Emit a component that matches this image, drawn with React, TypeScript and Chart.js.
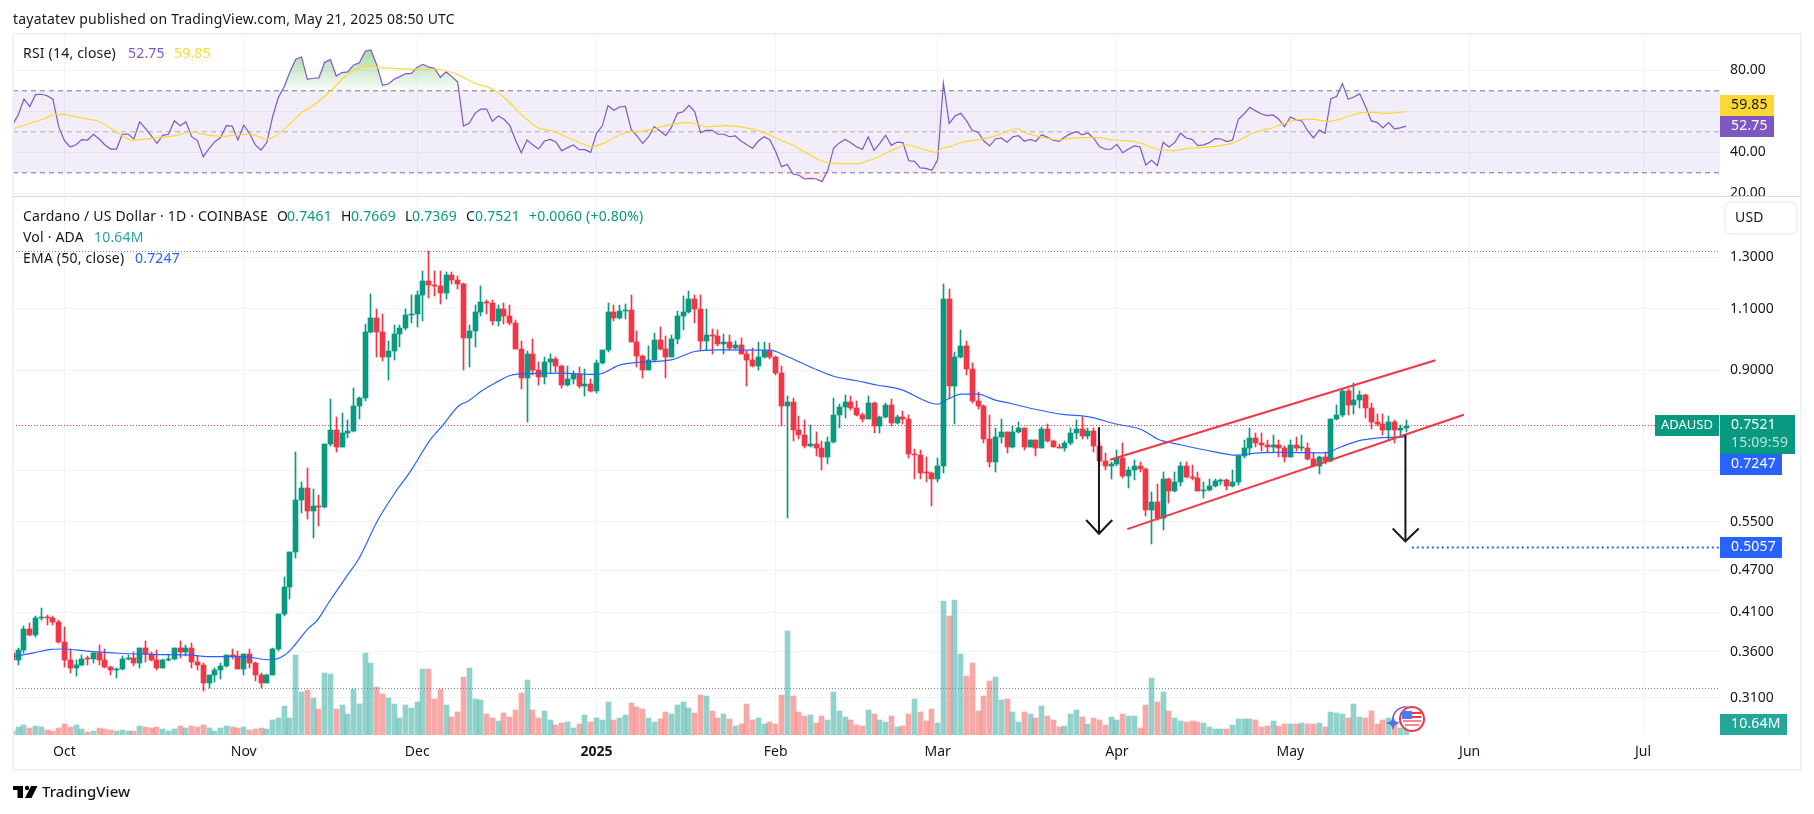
import React, { useEffect, useRef } from "react";
import { Chart, registerables } from "chart.js";

Chart.register(...registerables);

// Days are counted from 1 Oct 2024 (day 0).
const firstDay = -9;
const firstOpen = 0.359;

const closes = [
  0.351, 0.3628, 0.388, 0.38, 0.4015, 0.403, 0.4018, 0.3975, 0.372, 0.351,
  0.342, 0.3455, 0.352, 0.3515, 0.3585, 0.351, 0.343, 0.339, 0.341, 0.352,
  0.353, 0.3475, 0.3645, 0.358, 0.351, 0.342, 0.351, 0.3522, 0.3645, 0.36,
  0.3645, 0.349, 0.3455, 0.3255, 0.3335, 0.34, 0.3445, 0.3565, 0.3555, 0.341,
  0.358, 0.3475, 0.3335, 0.3255, 0.3345, 0.363, 0.408, 0.445, 0.498, 0.59,
  0.614, 0.57, 0.579, 0.5775, 0.709, 0.742, 0.702, 0.733, 0.74, 0.801,
  0.823, 1.02, 1.067, 1.02, 0.94, 0.959, 1.013, 1.033, 1.077, 1.081,
  1.15, 1.203, 1.188, 1.185, 1.157, 1.227, 1.207, 1.192, 1.0, 1.023,
  1.088, 1.124, 1.121, 1.056, 1.099, 1.074, 1.05, 0.965, 0.878, 0.95,
  0.901, 0.881, 0.925, 0.934, 0.913, 0.858, 0.875, 0.89, 0.855, 0.861,
  0.842, 0.922, 0.962, 1.088, 1.067, 1.092, 1.095, 0.987, 0.943, 0.901,
  0.931, 0.993, 0.965, 0.94, 0.996, 1.074, 1.088, 1.135, 1.099, 0.99,
  1.01, 1.006, 0.98, 0.987, 0.968, 0.977, 0.95, 0.931, 0.913, 0.94,
  0.959, 0.94, 0.892, 0.801, 0.812, 0.742, 0.73, 0.704, 0.709, 0.7,
  0.68, 0.714, 0.778, 0.799, 0.812, 0.796, 0.778, 0.768, 0.81, 0.752,
  0.773, 0.804, 0.759, 0.773, 0.768, 0.686, 0.684, 0.645, 0.6445, 0.631,
  0.66, 1.135, 0.855, 0.94, 0.974, 0.904, 0.815, 0.801, 0.72, 0.668,
  0.725, 0.737, 0.702, 0.737, 0.747, 0.702, 0.718, 0.7, 0.744, 0.716,
  0.702, 0.7, 0.711, 0.733, 0.744, 0.727, 0.74, 0.704, 0.671, 0.66,
  0.664, 0.677, 0.639, 0.651, 0.66, 0.653, 0.572, 0.586, 0.557, 0.633,
  0.608, 0.625, 0.66, 0.637, 0.635, 0.608, 0.61, 0.618, 0.627, 0.629,
  0.618, 0.625, 0.682, 0.698, 0.723, 0.711, 0.707, 0.702, 0.707, 0.698,
  0.68, 0.707, 0.698, 0.7, 0.675, 0.66, 0.68, 0.671, 0.768, 0.778,
  0.842, 0.804, 0.817, 0.831, 0.796, 0.761, 0.757, 0.742, 0.761, 0.742, 0.7461, 0.7521,
];

const highs = [
  0.359, 0.365, 0.392, 0.395, 0.405, 0.415, 0.406, 0.405, 0.399, 0.391,
  0.363, 0.351, 0.3565, 0.3555, 0.359, 0.3685, 0.364, 0.3445, 0.342, 0.3555,
  0.3565, 0.36, 0.365, 0.3725, 0.36, 0.362, 0.352, 0.3565, 0.365, 0.3725,
  0.3685, 0.3705, 0.3555, 0.3475, 0.3345, 0.342, 0.3475, 0.357, 0.363, 0.361,
  0.358, 0.363, 0.349, 0.3365, 0.3355, 0.365, 0.408, 0.46, 0.499, 0.691,
  0.625, 0.655, 0.612, 0.6, 0.709, 0.819, 0.773, 0.784, 0.766, 0.85,
  0.825, 1.046, 1.154, 1.098, 1.081, 0.99, 1.043, 1.043, 1.098, 1.15,
  1.165, 1.243, 1.325, 1.243, 1.243, 1.239, 1.239, 1.223, 1.196, 1.043,
  1.112, 1.184, 1.131, 1.131, 1.112, 1.12, 1.112, 1.06, 0.99, 0.959,
  0.996, 0.925, 0.94, 0.95, 0.94, 0.916, 0.913, 0.898, 0.91, 0.904,
  0.875, 0.931, 0.962, 1.12, 1.112, 1.112, 1.116, 1.15, 1.023, 0.946,
  0.974, 1.016, 1.036, 1.006, 1.01, 1.092, 1.146, 1.165, 1.15, 1.15,
  1.099, 1.03, 1.026, 1.013, 1.01, 0.99, 1.0, 0.959, 0.968, 0.987,
  0.987, 0.983, 0.943, 0.913, 0.828, 0.823, 0.776, 0.766, 0.754, 0.737,
  0.716, 0.725, 0.823, 0.807, 0.831, 0.828, 0.815, 0.784, 0.828, 0.812,
  0.776, 0.81, 0.82, 0.778, 0.789, 0.778, 0.697, 0.695, 0.68, 0.647,
  0.677, 1.192, 1.173, 0.956, 1.026, 0.99, 0.922, 0.84, 0.804, 0.778,
  0.747, 0.768, 0.737, 0.752, 0.761, 0.747, 0.718, 0.718, 0.749, 0.757,
  0.718, 0.709, 0.716, 0.747, 0.766, 0.773, 0.747, 0.747, 0.714, 0.688,
  0.669, 0.695, 0.711, 0.657, 0.673, 0.669, 0.655, 0.606, 0.621, 0.647,
  0.635, 0.647, 0.669, 0.669, 0.662, 0.647, 0.625, 0.631, 0.633, 0.633,
  0.633, 0.651, 0.684, 0.718, 0.747, 0.735, 0.733, 0.718, 0.73, 0.718,
  0.704, 0.718, 0.725, 0.73, 0.711, 0.688, 0.682, 0.691, 0.768, 0.804,
  0.847, 0.847, 0.864, 0.842, 0.834, 0.81, 0.781, 0.781, 0.776, 0.766, 0.754, 0.7669,
];

const lows = [
  0.349, 0.3455, 0.359, 0.379, 0.378, 0.4, 0.3925, 0.3935, 0.371, 0.3433,
  0.3365, 0.3325, 0.344, 0.3455, 0.3475, 0.3455, 0.3415, 0.3345, 0.331, 0.339,
  0.351, 0.3445, 0.342, 0.349, 0.35, 0.34, 0.342, 0.35, 0.351, 0.353,
  0.3555, 0.342, 0.34, 0.317, 0.3205, 0.327, 0.33, 0.3433, 0.352, 0.341,
  0.3345, 0.342, 0.328, 0.3205, 0.3255, 0.3335, 0.361, 0.405, 0.4275, 0.489,
  0.565, 0.555, 0.521, 0.543, 0.575, 0.704, 0.691, 0.702, 0.723, 0.737,
  0.768, 0.815, 1.016, 0.94, 0.928, 0.872, 0.931, 0.971, 1.026, 1.05,
  1.036, 1.056, 1.139, 1.146, 1.116, 1.135, 1.192, 1.173, 0.901, 0.91,
  0.971, 1.074, 1.081, 1.043, 1.04, 1.046, 1.043, 0.965, 0.847, 0.761,
  0.887, 0.858, 0.861, 0.892, 0.895, 0.85, 0.855, 0.861, 0.85, 0.828,
  0.839, 0.836, 0.919, 0.956, 1.056, 1.063, 1.063, 0.987, 0.91, 0.878,
  0.901, 0.925, 0.962, 0.878, 0.94, 0.98, 1.026, 1.084, 1.05, 0.962,
  0.962, 0.95, 0.974, 0.95, 0.962, 0.965, 0.95, 0.855, 0.91, 0.901,
  0.937, 0.934, 0.887, 0.752, 0.557, 0.716, 0.72, 0.7, 0.702, 0.682,
  0.651, 0.664, 0.711, 0.747, 0.771, 0.791, 0.776, 0.761, 0.768, 0.735,
  0.733, 0.771, 0.752, 0.757, 0.757, 0.677, 0.631, 0.631, 0.625, 0.579,
  0.625, 0.645, 0.823, 0.757, 0.937, 0.887, 0.81, 0.794, 0.711, 0.657,
  0.647, 0.711, 0.688, 0.698, 0.733, 0.695, 0.702, 0.682, 0.7, 0.714,
  0.702, 0.698, 0.693, 0.707, 0.72, 0.72, 0.72, 0.691, 0.66, 0.651,
  0.631, 0.66, 0.635, 0.614, 0.629, 0.647, 0.56, 0.512, 0.553, 0.536,
  0.584, 0.606, 0.618, 0.635, 0.629, 0.608, 0.594, 0.608, 0.616, 0.62,
  0.61, 0.616, 0.62, 0.677, 0.684, 0.702, 0.693, 0.691, 0.691, 0.68,
  0.669, 0.68, 0.693, 0.693, 0.673, 0.658, 0.643, 0.664, 0.669, 0.766,
  0.773, 0.778, 0.781, 0.796, 0.771, 0.744, 0.752, 0.73, 0.718, 0.711, 0.73, 0.7369,
];

// Volume in millions of ADA
const volumes = [
  7.5, 15, 19, 13, 17, 15, 9, 7.5, 13, 21,
  15, 19, 11, 5.6, 7.5, 13, 11, 9, 7.5, 9,
  7.5, 7.5, 17, 15, 13, 15, 11, 7.5, 11, 17,
  13, 17, 15, 19, 13, 7.5, 13, 17, 15, 13,
  15, 9, 11, 13, 11, 28, 32, 54, 32, 150,
  81, 84, 69, 49, 116, 114, 49, 56, 39, 86,
  58, 154, 135, 90, 77, 69, 58, 32, 56, 51,
  62, 124, 124, 68, 86, 56, 34, 43, 109, 126,
  68, 66, 39, 32, 26, 41, 34, 47, 79, 103,
  47, 32, 45, 28, 19, 23, 24, 13, 21, 38,
  24, 32, 28, 62, 28, 32, 38, 60, 53, 49,
  32, 24, 30, 43, 39, 56, 62, 51, 41, 75,
  73, 45, 32, 39, 30, 17, 21, 58, 28, 32,
  21, 24, 21, 75, 195, 73, 43, 36, 38, 23,
  36, 28, 81, 45, 34, 28, 19, 17, 47, 39,
  28, 24, 36, 15, 17, 39, 68, 43, 26, 49,
  23, 251, 223, 253, 152, 111, 135, 45, 73, 101,
  109, 66, 68, 43, 24, 43, 39, 32, 54, 36,
  28, 15, 17, 39, 47, 34, 21, 32, 28, 19,
  34, 28, 39, 36, 36, 13, 56, 107, 62, 81,
  45, 32, 26, 24, 26, 24, 23, 15, 11, 11,
  11, 19, 30, 30, 30, 28, 15, 17, 26, 17,
  21, 21, 21, 23, 20, 21, 23, 15, 43, 41,
  39, 32, 58, 34, 32, 45, 21, 28, 32, 24, 14, 10.64,
];
const volumeUpOverrides = [147];

const rsiValues = [
  53.3, 58.2, 66.0, 62.3, 68.1, 68.3, 67.6, 65.9, 52.5, 45.7,
  42.6, 43.7, 46.2, 46.0, 48.8, 46.5, 43.6, 41.6, 41.6, 48.8,
  48.9, 46.5, 54.8, 51.7, 48.1, 44.4, 48.3, 48.8, 55.4, 53.0,
  54.8, 47.6, 45.7, 37.9, 41.8, 45.2, 47.2, 53.0, 52.8, 46.0,
  53.2, 49.3, 43.6, 41.1, 44.9, 57.4, 66.8, 72.0, 79.3, 85.4,
  86.5, 75.6, 76.1, 76.3, 83.9, 85.2, 77.2, 78.9, 79.2, 82.6,
  83.7, 89.3, 89.9, 82.6, 72.7, 73.3, 75.6, 76.9, 78.4, 78.5,
  81.5, 82.9, 81.5, 81.0, 76.6, 79.2, 76.9, 74.3, 52.8, 54.1,
  59.0, 61.1, 61.1, 55.1, 57.7, 56.1, 53.2, 46.0, 39.8, 46.0,
  43.6, 41.6, 45.5, 46.3, 45.0, 40.7, 42.3, 43.6, 41.3, 41.3,
  40.0, 49.3, 52.8, 62.8, 60.5, 62.1, 62.4, 51.2, 48.0, 44.4,
  47.5, 52.5, 50.4, 48.1, 52.4, 59.0, 59.8, 62.9, 59.7, 49.6,
  50.7, 50.7, 48.8, 48.8, 47.6, 48.0, 45.5, 43.7, 42.0, 45.5,
  47.6, 46.0, 40.3, 33.0, 34.1, 29.4, 28.8, 27.0, 27.3, 27.0,
  25.7, 31.1, 42.0, 44.6, 46.3, 44.7, 42.6, 41.5, 47.5, 41.0,
  44.4, 48.3, 43.4, 45.0, 44.7, 35.9, 35.6, 32.4, 32.2, 31.2,
  36.3, 73.7, 54.0, 57.7, 59.0, 55.3, 50.6, 49.8, 45.5, 43.1,
  46.5, 47.0, 44.9, 47.6, 48.1, 45.4, 46.3, 45.4, 48.6, 47.3,
  45.9, 45.4, 47.5, 49.1, 50.1, 48.5, 49.4, 46.8, 42.8, 41.5,
  41.5, 43.9, 39.8, 41.6, 43.1, 42.6, 33.8, 36.1, 33.5, 44.9,
  42.6, 44.7, 49.3, 47.0, 46.3, 43.3, 43.6, 44.7, 46.7, 46.5,
  45.2, 46.0, 56.1, 58.7, 62.0, 60.2, 58.7, 57.9, 58.2, 56.1,
  52.5, 57.2, 55.8, 55.3, 50.4, 47.0, 50.9, 49.3, 66.2, 67.2,
  73.5, 65.9, 67.0, 68.5, 62.3, 55.3, 54.6, 51.9, 54.5, 51.4, 51.9, 52.75,
];

const rsiMaDays = [
  -8.9, -7, -5, -3.3, -1.6, 0.1, 1.8, 3.9, 6, 7.7, 9.7, 11.8, 13.5, 15.9, 18.9, 22, 24.4, 27.2, 29.9, 32.3,
  35, 36.7, 38.8, 41.2, 42.9, 46, 48.4, 50.4, 52.8, 54.2, 56.6, 58.6, 61.4, 64.1, 67.9, 70.9, 73.7, 76.4, 79.1, 81.9,
  84.3, 87, 89.4, 91.2, 93.5, 96.7, 99.5, 102.2, 104.9, 107.3, 109, 111.1, 114.5, 117.9, 121, 123.4, 126.1, 128.9, 131.3, 133,
  137, 140.2, 143.2, 145.6, 148, 150.7, 151.8, 153.1, 155.2, 158.3, 161, 164.8, 166.1, 169.2, 172, 174.7, 178, 181.5, 185.6, 189,
  191.5, 194.5, 196.4, 199.8, 202.2, 203.9, 205.9, 208.6, 211.3, 214, 216, 218.4, 220.1, 221.5, 224.9, 226.6, 228.3, 232,
];
const rsiMaValues = [
  51.4, 53.2, 55.0, 56.6, 58.5, 58.5, 57.4, 56.3, 55.0, 52.2, 48.8, 45.9, 46.3, 47.0, 48.0, 49.9, 48.6, 47.8, 48.5, 48.8,
  46.3, 48.3, 53.3, 59.8, 62.6, 69.9, 76.6, 80.5, 82.3, 81.3, 81.0, 80.7, 80.5, 80.5, 78.0, 73.7, 71.2, 65.9, 58.2, 52.0,
  50.6, 47.2, 44.4, 42.8, 44.7, 49.3, 50.2, 51.7, 53.5, 54.5, 54.1, 52.5, 53.0, 51.9, 49.6, 46.5, 43.3, 38.7, 35.4, 34.6,
  34.5, 37.1, 41.1, 43.7, 42.0, 40.0, 42.0, 42.8, 44.9, 46.2, 48.0, 51.5, 49.6, 47.3, 46.0, 47.0, 47.3, 46.0, 44.9, 41.5,
  40.8, 42.0, 42.3, 43.1, 44.7, 47.0, 49.8, 51.7, 54.5, 56.1, 56.1, 55.0, 55.8, 57.1, 59.5, 59.5, 59.0, 59.85,
];

const emaDays = [
  -8.9, -5.3, -2.3, -0.2, 3.9, 9.4, 16.2, 21, 25.8, 30.6, 35.7, 38.1, 39.8, 42.2, 43.6, 45.6, 49, 50.8,
  54.2, 56.9, 60, 63.1, 65.5, 68.2, 69.9, 72, 74.4, 77.1, 79.8, 86, 91.5, 92.8, 96.1,
  99.5, 104.9, 109, 113.1, 122, 124.8, 129.5, 133, 137, 140.5, 144.6, 151, 152.8, 155.2, 157.9, 161, 163.7, 167.8,
  172.6, 177.4, 181.5, 186.3, 189, 193.2, 198.7, 202.7, 206.6, 210.6, 218, 220.8, 223.9, 227, 232,
];
const emaValues = [
  0.3546, 0.359, 0.363, 0.3635, 0.361, 0.3585, 0.357, 0.3566, 0.3545, 0.3545, 0.351, 0.3565, 0.368, 0.389, 0.398, 0.4215, 0.463, 0.486,
  0.553, 0.6, 0.651, 0.715, 0.754, 0.802, 0.815, 0.84, 0.863, 0.885, 0.89, 0.892, 0.888, 0.89, 0.916,
  0.924, 0.931, 0.957, 0.962, 0.961, 0.943, 0.906, 0.883, 0.87, 0.858, 0.846, 0.806, 0.82, 0.833, 0.833, 0.817, 0.808, 0.793,
  0.78, 0.773, 0.757, 0.742, 0.72, 0.706, 0.691, 0.683, 0.688, 0.689, 0.688, 0.702, 0.716, 0.722, 0.7247,
];

const monthDays = [0, 31, 61, 92, 123, 151, 182, 212, 243, 273];
const monthLabels = ["Oct", "Nov", "Dec", "2025", "Feb", "Mar", "Apr", "May", "Jun", "Jul"];
const priceTicks = [1.3, 1.1, 0.9, 0.65, 0.55, 0.47, 0.41, 0.36, 0.31];
const rsiTicks = [80, 60, 40, 20];
const rsiLevels = [70, 50, 30];

const xRange = [-8.9, 286.3];
const priceRange = [0.2748, 1.587];
const rsiRange = [18.7, 97.2];
const volumeMax = 1312.5;

const rangeHigh = 1.325;
const rangeLow = 0.3196;
const lastPrice = 0.7521;
const targetPrice = 0.5057;

const channelUpper = [{ x: 180.8, y: 0.673 }, { x: 237.1, y: 0.93 }];
const channelLower = [{ x: 183.8, y: 0.537 }, { x: 242, y: 0.779 }];
const arrowOneShaft = [{ x: 178.9, y: 0.748 }, { x: 178.9, y: 0.529 }];
const arrowOneHead = [{ x: 176.7, y: 0.553 }, { x: 178.9, y: 0.529 }, { x: 181.2, y: 0.553 }];
const arrowTwoShaft = [{ x: 231.9, y: 0.729 }, { x: 231.9, y: 0.516 }];
const arrowTwoHead = [{ x: 229.7, y: 0.538 }, { x: 231.9, y: 0.516 }, { x: 234.2, y: 0.538 }];
const targetLine = [{ x: 233, y: targetPrice }, { x: xRange[1], y: targetPrice }];

const FONT = '"Noto Sans", sans-serif';
const INK = "#131722";
const UP = "#089981";
const DOWN = "#F23645";
const BLUE = "#2962FF";
const PURPLE = "#7E57C2";
const YELLOW = "#FDD835";
const GRID = "#f2f3f6";

const pixelAlignPlugin = {
  id: "pixelAlign",
  afterDatasetsUpdate(chart: any) {
    chart.getSortedVisibleDatasetMetas().forEach((meta: any) => {
      if (meta.type !== "bar") return;
      meta.data.forEach((el: any) => {
        el.x = Math.floor(el.x) + 0.5;
        el.y = Math.round(el.y);
        el.base = Math.round(el.base);
        if (el.y === el.base) el.base = el.y + 1;
      });
    });
  },
};

function badge(ctx: any, x0: number, y0: number, x1: number, y1: number, fill: string) {
  ctx.fillStyle = fill;
  ctx.fillRect(x0, y0, x1 - x0, y1 - y0);
}

function label(ctx: any, text: string, x: number, y: number, color: string, font = `14px ${FONT}`, spacing = "0.2px") {
  ctx.font = font;
  ctx.fillStyle = color;
  ctx.textAlign = "left";
  ctx.textBaseline = "middle";
  ctx.letterSpacing = spacing;
  ctx.fillText(text, x, y);
}

const framePlugin = {
  id: "frame",
  beforeDraw(chart: any) {
    const ctx = chart.ctx;
    ctx.save();
    ctx.fillStyle = "#ffffff";
    ctx.fillRect(0, 0, 1814, 814);
    ctx.restore();
  },
  afterDraw(chart: any) {
    const ctx = chart.ctx;
    ctx.save();
    // frame and pane divider
    ctx.strokeStyle = "#f1f1f3";
    ctx.lineWidth = 2;
    ctx.strokeRect(13, 34, 1788, 736);
    ctx.fillStyle = "#ffffff";
    ctx.fillRect(1721, 197, 78, 6);
    ctx.strokeStyle = "#dcdcdf";
    ctx.lineWidth = 1;
    ctx.beginPath();
    ctx.moveTo(13, 196.5);
    ctx.lineTo(1800, 196.5);
    ctx.stroke();

    // header
    label(ctx, "tayatatev published on TradingView.com, May 21, 2025 08:50 UTC", 13, 20, INK);

    // RSI legend
    label(ctx, "RSI (14, close)", 23, 54, INK);
    label(ctx, "52.75", 128, 54, PURPLE);
    label(ctx, "59.85", 174, 54, YELLOW);

    // main legend
    label(ctx, "Cardano / US Dollar · 1D · COINBASE", 23, 217, INK);
    label(ctx, "O", 277, 217, INK);
    label(ctx, "0.7461", 287, 217, UP);
    label(ctx, "H", 341, 217, INK);
    label(ctx, "0.7669", 351, 217, UP);
    label(ctx, "L", 405, 217, INK);
    label(ctx, "0.7369", 412, 217, UP);
    label(ctx, "C", 466, 217, INK);
    label(ctx, "0.7521", 475, 217, UP);
    label(ctx, "+0.0060 (+0.80%)", 529, 217, UP);
    label(ctx, "Vol · ADA", 23, 238, INK);
    label(ctx, "10.64M", 94, 238, "#26a69a");
    label(ctx, "EMA (50, close)", 23, 259, INK);
    label(ctx, "0.7247", 135, 259, BLUE);

    // USD button
    ctx.strokeStyle = "#f0f3fa";
    ctx.lineWidth = 2;
    ctx.beginPath();
    ctx.roundRect(1725, 202, 72, 32, 6);
    ctx.stroke();
    label(ctx, "USD", 1735, 218, INK);

    // right-hand badges
    badge(ctx, 1720, 95, 1774, 116, YELLOW);
    label(ctx, "59.85", 1731, 105.5, INK);
    badge(ctx, 1720, 116, 1774, 137, PURPLE);
    label(ctx, "52.75", 1731, 126.5, "#ffffff");

    badge(ctx, 1655, 415, 1719, 436, UP);
    label(ctx, "ADAUSD", 1661, 425.5, "#ffffff", `13px ${FONT}`, "0px");
    badge(ctx, 1720, 415, 1795, 454, UP);
    label(ctx, "0.7521", 1731, 425.5, "#ffffff");
    label(ctx, "15:09:59", 1731, 443, "rgba(255,255,255,0.72)");
    badge(ctx, 1720, 454, 1782, 475, BLUE);
    label(ctx, "0.7247", 1731, 464.5, "#ffffff");
    badge(ctx, 1720, 537, 1782, 558, BLUE);
    label(ctx, "0.5057", 1731, 547.5, "#ffffff");
    badge(ctx, 1720, 714, 1787, 735, "#26a69a");
    label(ctx, "10.64M", 1731, 724.5, "#ffffff");

    // economic-event icon
    ctx.strokeStyle = PURPLE;
    ctx.lineWidth = 1.5;
    ctx.beginPath();
    ctx.arc(1405, 719, 12, Math.PI * 0.95, Math.PI * 1.6);
    ctx.stroke();
    ctx.fillStyle = "#5a6ee6";
    ctx.beginPath();
    ctx.moveTo(1393, 716);
    ctx.lineTo(1395, 721);
    ctx.lineTo(1400, 723);
    ctx.lineTo(1395, 725);
    ctx.lineTo(1393, 730);
    ctx.lineTo(1391, 725);
    ctx.lineTo(1386, 723);
    ctx.lineTo(1391, 721);
    ctx.closePath();
    ctx.fill();
    ctx.fillStyle = "#ffffff";
    ctx.beginPath();
    ctx.arc(1412, 719, 13, 0, Math.PI * 2);
    ctx.fill();
    ctx.strokeStyle = DOWN;
    ctx.lineWidth = 2;
    ctx.beginPath();
    ctx.arc(1412, 719, 12, 0, Math.PI * 2);
    ctx.stroke();
    ctx.fillStyle = "#f7888f";
    ctx.fillRect(1403, 720, 18, 2);
    ctx.fillRect(1405, 724, 14, 2);
    ctx.fillStyle = DOWN;
    ctx.fillRect(1412, 712, 9, 2);
    ctx.fillRect(1412, 716, 9, 2);
    ctx.fillStyle = "#4a7df0";
    ctx.fillRect(1402, 711, 10, 8);

    // logo
    ctx.fillStyle = "#000000";
    ctx.fillRect(13, 786, 10, 4);
    ctx.fillRect(17.5, 786, 5.5, 12);
    ctx.beginPath();
    ctx.arc(27, 788, 2.2, 0, Math.PI * 2);
    ctx.fill();
    ctx.beginPath();
    ctx.moveTo(31, 786);
    ctx.lineTo(37.5, 786);
    ctx.lineTo(31.5, 798);
    ctx.lineTo(25, 798);
    ctx.closePath();
    ctx.fill();
    label(ctx, "TradingView", 42, 793, "#131722", `500 15px ${FONT}`, "0px");
    ctx.restore();
  },
};

function lineSet(data: any[], yAxisID: string, color: string, width: number, order: number, extra: any = {}) {
  return {
    type: "line",
    data,
    yAxisID,
    xAxisID: "x",
    borderColor: color,
    borderWidth: width,
    pointRadius: 0,
    tension: 0,
    fill: false,
    order,
    ...extra,
  };
}

export default function App() {
  const ref = useRef<HTMLCanvasElement | null>(null);

  useEffect(() => {
    const canvas = ref.current;
    if (!canvas) return;
    const ctx = canvas.getContext("2d") as CanvasRenderingContext2D;

    const opens = closes.map((_, i) => (i === 0 ? firstOpen : closes[i - 1]));
    const days = closes.map((_, i) => firstDay + i);
    const isUp = closes.map((c, i) => c >= opens[i]);

    const candleColors = isUp.map((u) => (u ? UP : DOWN));
    const volumeColors = isUp.map((u, i) =>
      u || volumeUpOverrides.includes(days[i]) ? "rgba(38,166,154,0.5)" : "rgba(239,83,80,0.5)"
    );

    const overbought = ctx.createLinearGradient(0, 46, 0, 91);
    overbought.addColorStop(0, "rgba(76,175,80,0.55)");
    overbought.addColorStop(1, "rgba(76,175,80,0.02)");

    const rsiPoints = rsiValues.map((y, i) => ({ x: days[i], y }));
    const maPoints = rsiMaValues.map((y, i) => ({ x: rsiMaDays[i], y }));
    const emaPoints = emaValues.map((y, i) => ({ x: emaDays[i], y }));
    const level = (y: number) => [{ x: xRange[0], y }, { x: xRange[1], y }];

    const chart = new Chart(canvas, {
      type: "bar",
      plugins: [pixelAlignPlugin, framePlugin],
      data: {
        datasets: [
          lineSet(level(rsiLevels[0]), "yRsi", "#787B86", 1, 30, {
            borderDash: [5, 4],
            fill: { target: "+1", above: "rgba(126,87,194,0.1)", below: "rgba(126,87,194,0.1)" },
          }),
          lineSet(level(rsiLevels[2]), "yRsi", "#787B86", 1, 30, { borderDash: [5, 4] }),
          lineSet(level(rsiLevels[1]), "yRsi", "rgba(120,123,134,0.55)", 1, 30, { borderDash: [5, 4] }),
          lineSet(rsiPoints, "yRsi", PURPLE, 1.2, 6, {
            fill: { target: { value: 70 }, above: overbought, below: "rgba(0,0,0,0)" },
          }),
          lineSet(rsiPoints, "yRsi", "rgba(0,0,0,0)", 0, 29, {
            fill: { target: { value: 30 }, above: "rgba(0,0,0,0)", below: "rgba(242,54,69,0.12)" },
          }),
          lineSet(maPoints, "yRsi", YELLOW, 1.2, 5, { cubicInterpolationMode: "monotone" }),
          {
            type: "bar",
            data: volumes.map((y, i) => ({ x: days[i], y })),
            yAxisID: "yVol",
            xAxisID: "x",
            backgroundColor: volumeColors,
            barThickness: 5,
            grouped: false,
            order: 20,
          },
          {
            type: "bar",
            data: highs.map((h, i) => ({ x: days[i], y: [lows[i], h] })),
            yAxisID: "yPrice",
            xAxisID: "x",
            backgroundColor: candleColors,
            barThickness: 1,
            grouped: false,
            minBarLength: 1,
            order: 10,
          },
          {
            type: "bar",
            data: closes.map((c, i) => ({ x: days[i], y: [opens[i], c] })),
            yAxisID: "yPrice",
            xAxisID: "x",
            backgroundColor: candleColors,
            barThickness: 5,
            grouped: false,
            minBarLength: 1,
            order: 9,
          },
          lineSet(emaPoints, "yPrice", BLUE, 1.2, 5, { cubicInterpolationMode: "monotone" }),
          lineSet(level(rangeHigh), "yPrice", "#787B86", 1, 25, { borderDash: [1, 2] }),
          lineSet(level(rangeLow), "yPrice", "#787B86", 1, 25, { borderDash: [1, 2] }),
          lineSet(level(lastPrice), "yPrice", DOWN, 1, 25, { borderDash: [1, 2] }),
          lineSet(channelUpper, "yPrice", DOWN, 2, 3),
          lineSet(channelLower, "yPrice", DOWN, 2, 3),
          lineSet(arrowOneShaft, "yPrice", INK, 2, 2),
          lineSet(arrowOneHead, "yPrice", INK, 2, 2),
          lineSet(arrowTwoShaft, "yPrice", INK, 2, 2),
          lineSet(arrowTwoHead, "yPrice", INK, 2, 2),
          lineSet(targetLine, "yPrice", BLUE, 2, 2, { borderDash: [2, 3] }),
        ] as any,
      },
      options: {
        responsive: false,
        animation: false,
        devicePixelRatio: 1,
        maintainAspectRatio: false,
        layout: { padding: { left: 13, top: 35, right: 0, bottom: 0 } },
        plugins: { legend: { display: false }, tooltip: { enabled: false }, title: { display: false } },
        scales: {
          x: {
            type: "linear",
            min: xRange[0],
            max: xRange[1],
            offset: false,
            bounds: "data",
            grid: { color: GRID, drawTicks: false, offset: false },
            border: { display: false },
            afterBuildTicks: (s: any) => {
              s.ticks = monthDays.map((value) => ({ value }));
            },
            afterFit: (s: any) => {
              s.height = 79;
            },
            ticks: {
              autoSkip: false,
              maxRotation: 0,
              padding: 9,
              color: INK,
              font: (c: any) =>
                c.tick && c.tick.value === 92
                  ? { family: FONT, size: 14, weight: "bold" }
                  : { family: FONT, size: 14 },
              callback: (v: any) => monthLabels[monthDays.indexOf(v)],
            },
          },
          yRsi: {
            type: "linear",
            position: "right",
            stack: "panes",
            stackWeight: 161,
            weight: 0,
            min: rsiRange[0],
            max: rsiRange[1],
            grid: { color: GRID, drawTicks: false },
            border: { display: false },
            afterBuildTicks: (s: any) => {
              s.ticks = rsiTicks.map((value) => ({ value }));
            },
            afterFit: (s: any) => {
              s.width = 94;
            },
            ticks: {
              autoSkip: false,
              padding: 10,
              color: INK,
              font: { family: FONT, size: 14 },
              callback: (v: any) => Number(v).toFixed(2),
            },
          },
          yPrice: {
            type: "logarithmic",
            position: "right",
            stack: "panes",
            stackWeight: 539,
            weight: 1,
            min: priceRange[0],
            max: priceRange[1],
            bounds: "data",
            grid: { color: GRID, drawTicks: false },
            border: { display: false },
            afterBuildTicks: (s: any) => {
              s.ticks = priceTicks.map((value) => ({ value }));
            },
            afterFit: (s: any) => {
              s.width = 94;
            },
            ticks: {
              autoSkip: false,
              padding: 10,
              color: INK,
              font: { family: FONT, size: 14 },
              callback: (v: any) => Number(v).toFixed(4),
            },
          },
          yVol: {
            type: "linear",
            display: false,
            position: "right",
            min: 0,
            max: volumeMax,
          },
        },
      } as any,
    } as any);

    return () => chart.destroy();
  }, []);

  return (
    <canvas
      ref={ref}
      width={1814}
      height={814}
      style={{ position: "absolute", left: 0, top: 0, display: "block", width: 1814, height: 814 }}
    />
  );
}
